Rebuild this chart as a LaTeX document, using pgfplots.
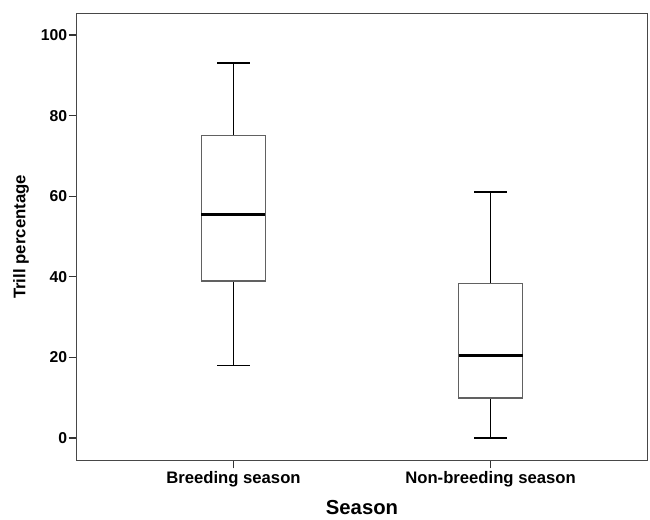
\documentclass[border=0pt]{standalone}
\usepackage{pgfplots}
\pgfplotsset{compat=1.18}
\usepackage{fontspec}
\setmainfont{Liberation Sans}
\begin{document}
\begin{tikzpicture}
\begin{axis}[
  scale only axis,
  width=427.95pt, height=335.25pt,
  xmin=0.39, xmax=2.61,
  ymin=-5.54, ymax=105.39,
  axis line style={draw=black!72, line width=1.1pt},
  xtick={1,2},
  xticklabels={Breeding season, Non-breeding season},
  ytick={0,20,40,60,80,100},
  tick align=outside,
  xtick pos=bottom, ytick pos=left,
  major tick length=6pt,
  tick style={draw=black!80, line width=0.9pt},
  /pgf/number format/assume math mode=true,
  yticklabel style={font=\fontsize{11.8}{13}\selectfont\bfseries, inner sep=1pt},
  xticklabel style={font=\fontsize{12.5}{14}\selectfont\bfseries, inner sep=1pt, yshift=-1.5pt},
  xlabel={Season},
  ylabel={Trill percentage},
  xlabel style={font=\fontsize{15.2}{17}\selectfont\bfseries, at={(axis description cs:0.5,-0.1063)}, anchor=center},
  ylabel style={font=\fontsize{12.6}{14}\selectfont\bfseries, at={(axis description cs:-0.0976,0.5)}, anchor=center},
  boxst/.style={draw=black!62, line width=1.1pt, line cap=rect, line join=miter, mark=none},
  whst/.style={draw=black, line width=1.35pt, mark=none},
  medst/.style={draw=black, line width=2.4pt, mark=none},
]
% Breeding season: lw 18, q1 39, med 55.5, q3 75, uw 93
\addplot[whst] coordinates {(1,75) (1,93)};
\addplot[whst] coordinates {(1,18) (1,39)};
\addplot[whst] coordinates {(0.9375,93) (1.0625,93)};
\addplot[whst] coordinates {(0.9375,18) (1.0625,18)};
\addplot[boxst] coordinates {(0.8755,39) (1.1245,39) (1.1245,75) (0.8755,75) (0.8755,39)};
\addplot[medst] coordinates {(0.8755,55.5) (1.1245,55.5)};
% Non-breeding season: lw 0, q1 9.9, med 20.5, q3 38.4, uw 61
\addplot[whst] coordinates {(2,38.4) (2,61)};
\addplot[whst] coordinates {(2,0) (2,9.9)};
\addplot[whst] coordinates {(1.9375,61) (2.0625,61)};
\addplot[whst] coordinates {(1.9375,0) (2.0625,0)};
\addplot[boxst] coordinates {(1.8755,9.9) (2.1245,9.9) (2.1245,38.4) (1.8755,38.4) (1.8755,9.9)};
\addplot[medst] coordinates {(1.8755,20.5) (2.1245,20.5)};
\end{axis}
\path (current axis.south west) ++(-57.525pt,-41.025pt);
\path (current axis.north east) ++(2.025pt,9.975pt);
\end{tikzpicture}
\end{document}
